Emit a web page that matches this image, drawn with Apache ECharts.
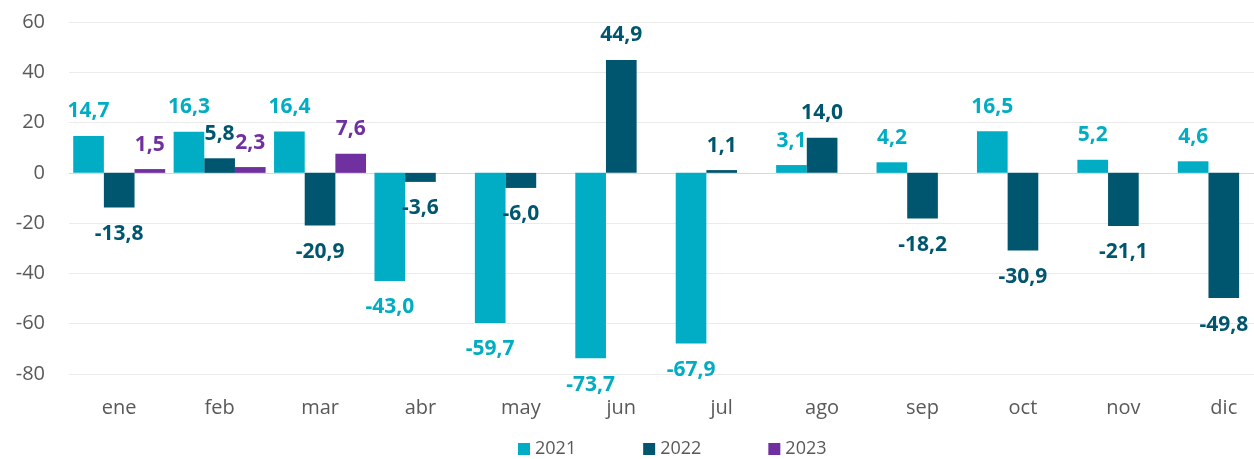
<!DOCTYPE html>
<html>
<head>
<meta charset="utf-8">
<script src="https://cdn.jsdelivr.net/npm/echarts@6/dist/echarts.min.js"></script>
<style>
html,body{margin:0;padding:0;background:#fff;}
#chart{width:1254px;height:459px;}
</style>
</head>
<body>
<div id="chart"></div>
<script>
const categories = ['ene','feb','mar','abr','may','jun','jul','ago','sep','oct','nov','dic'];
const seriesNames = ['2021','2022','2023'];
const values2021 = [14.7, 16.3, 16.4, -43.0, -59.7, -73.7, -67.9, 3.1, 4.2, 16.5, 5.2, 4.6];
const values2022 = [-13.8, 5.8, -20.9, -3.6, -6.0, 44.9, 1.1, 14.0, -18.2, -30.9, -21.1, -49.8];
const values2023 = [1.5, 2.3, 7.6, null, null, null, null, null, null, null, null, null];
const colors = ['#00ADC4', '#00566F', '#7030A0'];

const FONT = '"Open Sans", "Noto Sans", sans-serif';

function toData(arr) {
  return arr.map(v => {
    if (v === null) return null;
    return {
      value: v,
      label: v < 0 ? { position: 'bottom', distance: 16 } : { position: 'top', distance: 14 }
    };
  });
}

function makeSeries(name, arr, color, idx) {
  const s = {
    name: name,
    type: 'bar',
    data: toData(arr),
    barGap: '0%',
    barCategoryGap: '8.4%',
    itemStyle: { color: color },
    label: {
      show: true,
      color: color,
      fontFamily: FONT,
      fontWeight: 'bold',
      fontSize: 21,
      formatter: p => p.value.toFixed(1).replace('.', ',')
    },
    emphasis: { disabled: true }
  };
  if (idx === 0) {
    s.markLine = {
      silent: true,
      symbol: 'none',
      label: { show: false },
      lineStyle: { color: '#D9D9D9', width: 1, type: 'solid' },
      data: [{ yAxis: 0 }],
      z: 1
    };
  }
  return s;
}

const chart = echarts.init(document.getElementById('chart'), null, { renderer: 'canvas' });
chart.setOption({
  animation: false,
  backgroundColor: '#fff',
  grid: { left: 69, top: 22, right: -20, bottom: 85, containLabel: false, outerBoundsMode: 'none' },
  legend: {
    data: seriesNames,
    left: 513,
    top: 435,
    icon: 'rect',
    itemWidth: 12,
    itemHeight: 12,
    itemGap: 67,
    textStyle: { color: '#595959', fontFamily: FONT, fontSize: 18 }
  },
  xAxis: {
    type: 'category',
    data: categories,
    axisLine: { show: false, onZero: false },
    axisTick: { show: false },
    axisLabel: { color: '#595959', fontFamily: FONT, fontSize: 20, margin: 24 }
  },
  yAxis: {
    type: 'value',
    min: -80,
    max: 60,
    interval: 20,
    axisLine: { show: false },
    axisTick: { show: false },
    axisLabel: { color: '#595959', fontFamily: FONT, fontSize: 20, margin: 24 },
    splitLine: { lineStyle: { color: '#EBEBEB', width: 1 } }
  },
  series: [
    makeSeries(seriesNames[0], values2021, colors[0], 0),
    makeSeries(seriesNames[1], values2022, colors[1], 1),
    makeSeries(seriesNames[2], values2023, colors[2], 2)
  ]
});
</script>
</body>
</html>
